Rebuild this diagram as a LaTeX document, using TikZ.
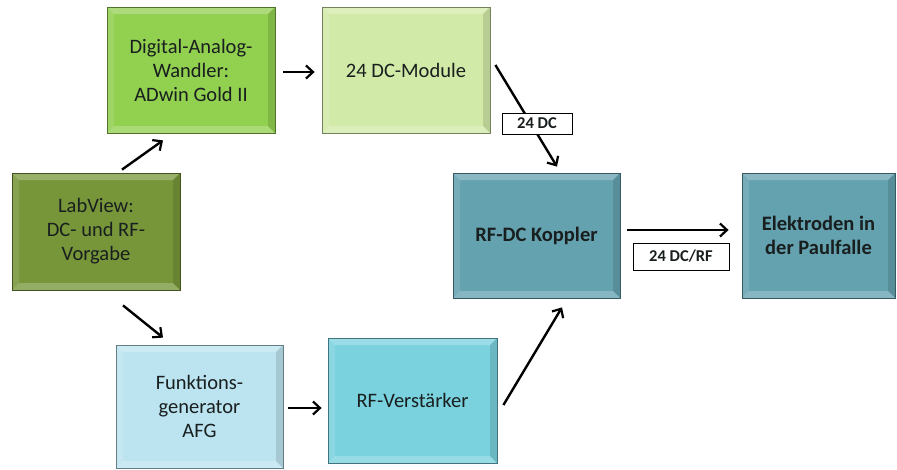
\documentclass[tikz,border=0pt]{standalone}
\usepackage{fontspec}
\setmainfont{Carlito}
\usetikzlibrary{arrows.meta,calc}
\definecolor{cLab}{RGB}{119,150,58}
\definecolor{cDac}{RGB}{146,208,80}
\definecolor{cDcm}{RGB}{210,234,168}
\definecolor{cKop}{RGB}{100,162,176}
\definecolor{cFg}{RGB}{188,228,240}
\definecolor{cRfv}{RGB}{122,210,222}
\definecolor{txt}{RGB}{25,30,30}
\tikzset{
  blk/.style={rectangle, draw=#1!55!black, line width=0.8pt, fill=#1,
    align=center, text=txt, font=\fontsize{20.5}{24}\selectfont, inner sep=0pt,
    path picture={
      \coordinate (pa) at (path picture bounding box.north west);
      \coordinate (pb) at (path picture bounding box.south east);
      \fill[white,opacity=.25] (pa) -- (pa -| pb) -- ([shift={(-7pt,-7pt)}]pa -| pb) -- ([shift={(7pt,-7pt)}]pa) -- cycle;
      \fill[white,opacity=.12] (pa) -- (pa |- pb) -- ([shift={(7pt,7pt)}]pa |- pb) -- ([shift={(7pt,-7pt)}]pa) -- cycle;
      \fill[black,opacity=.12] (pb) -- (pb |- pa) -- ([shift={(-7pt,-7pt)}]pb |- pa) -- ([shift={(-7pt,7pt)}]pb) -- cycle;
      \fill[white,opacity=.22] (pb) -- (pa |- pb) -- ([shift={(7pt,7pt)}]pa |- pb) -- ([shift={(-7pt,7pt)}]pb) -- cycle;
    }},
  bfblk/.style={blk=#1, font=\bfseries\fontsize{20.5}{24}\selectfont},
  arr/.style={line width=2.4pt, -{Straight Barb[length=7pt,width=13pt,line width=2.2pt]}},
  lbl/.style={rectangle, draw=black, line width=0.9pt, fill=white, font=\bfseries\fontsize{16.5}{18}\selectfont, inner sep=0pt, text=txt}
}
\begin{document}
\begin{tikzpicture}[x=1pt,y=-1pt]
\useasboundingbox (0,0) rectangle (897,469);
\node[blk=cLab, minimum width=168pt, minimum height=117pt] (lab) at (96,231.5) {LabView:\\DC- und RF-\\Vorgabe};
\node[blk=cDac, minimum width=168pt, minimum height=126pt] (dac) at (191,70) {Digital-Analog-\\Wandler:\\ADwin Gold II};
\node[blk=cDcm, minimum width=168pt, minimum height=126pt] (dcm) at (406,70) {24 DC-Module};
\node[bfblk=cKop, minimum width=167pt, minimum height=125pt] (kop) at (536.5,235.5) {RF-DC Koppler};
\node[bfblk=cKop, minimum width=153pt, minimum height=125pt] (ele) at (818.5,235.5) {Elektroden in\\der Paulfalle};
\node[blk=cFg, minimum width=167pt, minimum height=123pt] (fg) at (199.5,406.5) {Funktions-\\generator\\AFG};
\node[blk=cRfv, minimum width=169pt, minimum height=125pt] (rfv) at (412.5,400.5) {RF-Verstärker};

\draw[arr] ([shift={(26pt,3pt)}]lab.north) -- ([shift={(-28pt,-7pt)}]dac.south);
\draw[arr, shorten <=8pt, shorten >=7pt] ([yshift=-2pt]dac.east) -- ([yshift=-2pt]dcm.west);
\draw[arr] ([shift={(5pt,5pt)}]dcm.east) -- ([shift={(20.5pt,6pt)}]kop.north);
\node[lbl, minimum width=70pt, minimum height=21pt] (l1) at (537,123.5) {24 DC};
\draw[arr, shorten <=7pt, shorten >=13pt] ([yshift=5.5pt]kop.east) -- ([yshift=5.5pt]ele.west);
\node[lbl, minimum width=96pt, minimum height=27pt] (l2) at (681,256.5) {24 DC/RF};
\draw[arr] ([shift={(27pt,-15pt)}]lab.south) -- ([shift={(-36.5pt,7pt)}]fg.north);
\draw[arr, shorten <=5pt, shorten >=6pt] ([yshift=-1.5pt]fg.east) -- ([yshift=-7.5pt]rfv.west);
\draw[arr] ([shift={(6pt,-4.5pt)}]rfv.east) -- ([shift={(25.5pt,-9pt)}]kop.south);
\end{tikzpicture}
\end{document}
